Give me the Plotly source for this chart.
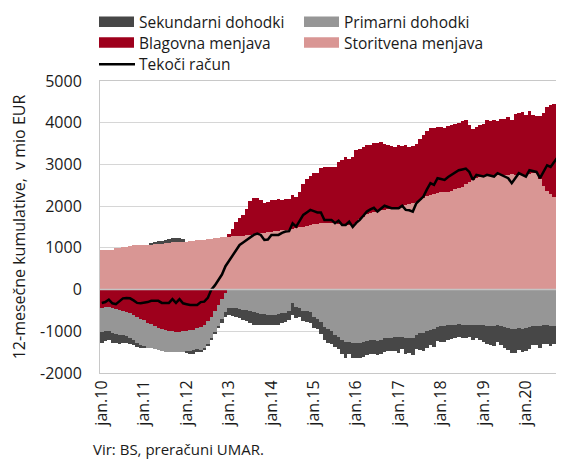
import plotly.graph_objects as go

# 12-mesečne kumulative, mio EUR, mesečno jan.2010 - nov.2020
mesci = ["jan", "feb", "mar", "apr", "maj", "jun", "jul", "avg", "sep", "okt", "nov", "dec"]
obdobja = [f"{m}.{l:02d}" for l in range(10, 21) for m in mesci][:131]
oznake_x = [f"jan.{l:02d}" for l in range(10, 21)]

storitvena = [
    950, 950, 945, 955, 990, 1000, 1010, 1020, 1040, 1060, 1065, 1070,
    1075, 1080, 1085, 1090, 1095, 1100, 1110, 1120, 1130, 1135, 1140, 1145,
    1150, 1160, 1170, 1180, 1190, 1200, 1210, 1220, 1230, 1240, 1250, 1260,
    1270, 1275, 1280, 1285, 1290, 1300, 1310, 1330, 1340, 1350, 1360, 1370,
    1390, 1400, 1410, 1420, 1430, 1440, 1450, 1470, 1490, 1510, 1530, 1550,
    1570, 1580, 1590, 1600, 1600, 1600, 1590, 1580, 1570, 1560, 1550, 1560,
    1600, 1680, 1750, 1800, 1840, 1870, 1890, 1900, 1910, 1930, 1950, 1970,
    1990, 2000, 2020, 2040, 2070, 2100, 2150, 2200, 2240, 2270, 2290, 2310,
    2330, 2340, 2350, 2370, 2400, 2430, 2470, 2520, 2570, 2630, 2680, 2700,
    2710, 2720, 2730, 2740, 2740, 2740, 2750, 2750, 2760, 2750, 2740, 2740,
    2740, 2780, 2800, 2800, 2650, 2480, 2360, 2280, 2210, 2140, 2080,
]
blagovna = [
    -430, -420, -420, -440, -470, -490, -510, -530, -560, -600, -650, -700,
    -740, -790, -830, -870, -910, -940, -970, -990, -1000, -1010, -1010, -1000,
    -1000, -980, -960, -920, -900, -850, -760, -650, -520, -380, -230, -80,
    60, 180, 330, 420, 500, 640, 820, 860, 850, 800, 720, 740,
    760, 740, 750, 730, 730, 730, 820, 750, 850, 1030, 1120, 1170,
    1220, 1220, 1320, 1330, 1340, 1330, 1360, 1480, 1530, 1620, 1570, 1620,
    1740, 1700, 1670, 1660, 1620, 1640, 1630, 1630, 1590, 1530, 1490, 1450,
    1470, 1440, 1440, 1380, 1370, 1400, 1450, 1500, 1560, 1600, 1590, 1590,
    1570, 1540, 1570, 1570, 1570, 1570, 1570, 1540, 1380, 1220, 1220, 1240,
    1250, 1340, 1320, 1320, 1300, 1340, 1350, 1380, 1300, 1450, 1500, 1510,
    1450, 1510, 1380, 1360, 1520, 1750, 2020, 2140, 2240, 2320, 2390,
]
primarni = [
    -580, -570, -580, -590, -590, -600, -590, -590, -600, -610, -620, -630,
    -620, -600, -580, -560, -540, -530, -520, -500, -490, -480, -480, -500,
    -480, -500, -500, -500, -540, -540, -540, -520, -500, -490, -480, -450,
    -440, -440, -450, -460, -480, -500, -520, -540, -560, -580, -590, -600,
    -610, -600, -590, -570, -550, -520, -330, -420, -430, -520, -520, -540,
    -650, -700, -780, -900, -950, -1000, -1080, -1130, -1200, -1250, -1250, -1270,
    -1280, -1270, -1250, -1230, -1220, -1210, -1230, -1200, -1160, -1150, -1150, -1140,
    -1140, -1130, -1150, -1150, -1160, -1080, -1050, -1030, -1000, -960, -950, -900,
    -880, -870, -860, -850, -840, -830, -840, -850, -850, -860, -850, -860,
    -860, -870, -880, -880, -860, -880, -900, -930, -950, -940, -920, -950,
    -920, -900, -880, -870, -880, -860, -850, -870, -880, -870, -880,
]
sekundarni = [
    -260, -250, -220, -250, -230, -220, -180, -170, -150, -130, -110, -80,
    -30, 0, 30, 50, 60, 70, 80, 90, 100, 100, 90, 70,
    -40, -60, -80, -80, -60, -50, -50, -40, -40, -50, -80, -120,
    -180, -200, -200, -220, -240, -260, -280, -300, -300, -280, -260, -250,
    -250, -250, -250, -230, -220, -210, -290, -250, -230, -230, -260, -270,
    -260, -250, -280, -300, -320, -300, -300, -300, -350, -380, -300, -380,
    -370, -370, -360, -340, -330, -330, -350, -340, -330, -330, -330, -330,
    -370, -300, -400, -370, -410, -350, -400, -440, -400, -360, -420, -330,
    -370, -380, -360, -340, -330, -310, -320, -310, -280, -360, -300, -350,
    -390, -440, -440, -470, -390, -450, -490, -530, -560, -590, -530, -550,
    -560, -530, -460, -470, -520, -450, -450, -480, -430, -410, -430,
]
tekoci = [
    -320, -300, -240, -330, -350, -280, -210, -200, -210, -260, -320, -330,
    -320, -300, -270, -270, -270, -320, -320, -320, -230, -320, -230, -330,
    -350, -370, -370, -370, -300, -290, -200, 0, 100, 220, 360, 560,
    680, 800, 950, 1070, 1130, 1190, 1250, 1310, 1340, 1310, 1190, 1200,
    1310, 1310, 1310, 1360, 1390, 1400, 1590, 1510, 1650, 1790, 1850, 1910,
    1880, 1850, 1850, 1670, 1670, 1670, 1590, 1650, 1550, 1550, 1630, 1500,
    1600, 1670, 1770, 1870, 1920, 1960, 1870, 1940, 2010, 1980, 1950, 1950,
    1950, 2010, 1910, 1900, 1870, 2070, 2150, 2230, 2400, 2550, 2510, 2670,
    2650, 2630, 2700, 2750, 2800, 2860, 2880, 2900, 2820, 2630, 2750, 2730,
    2710, 2750, 2730, 2710, 2790, 2750, 2710, 2670, 2550, 2670, 2790, 2750,
    2710, 2860, 2840, 2820, 2670, 2820, 2980, 2940, 3060, 3180, 3140,
]

y_ticks = [-2000, -1000, 0, 1000, 2000, 3000, 4000, 5000]

BARVE = {
    "Sekundarni dohodki": "#474747",
    "Primarni dohodki": "#969696",
    "Blagovna menjava": "#9e001c",
    "Storitvena menjava": "#d99694",
}
FONT = "'Open Sans', 'Noto Sans', sans-serif"
TEXT = "#1a1a1a"

# stran ima 8 px roba (body margin), zato je slika za 8 px manjša
ODMIK = 8
W, H = 564 - ODMIK, 460 - ODMIK
# območje risanja v pikslih referenčne slike
L, R, T, B = 100, 563, 81, 373.5


def px(x):
    return (x - L) / (R - L)


def py(y):
    return (B - y) / (B - T)


fig = go.Figure()

# vrstni red sledi = vrstni red zlaganja (od 0 navzven)
for ime, vrednosti in [("Storitvena menjava", storitvena),
                       ("Blagovna menjava", blagovna),
                       ("Primarni dohodki", primarni),
                       ("Sekundarni dohodki", sekundarni)]:
    fig.add_trace(go.Bar(x=obdobja, y=vrednosti, name=ime, showlegend=False,
                         marker=dict(color=BARVE[ime], line=dict(width=0))))

fig.add_trace(go.Scatter(x=obdobja, y=tekoci, name="Tekoči račun", mode="lines",
                         showlegend=False, line=dict(color="#000000", width=2.5)))

fig.add_shape(type="line", xref="paper", x0=0, x1=1, yref="y", y0=0, y1=0,
              line=dict(color="#c4c4c4", width=1.5), layer="above")

# legenda (ročno, zaradi širokih pravokotnikov)
legenda = [
    ("Sekundarni dohodki", 99, 21.7),
    ("Primarni dohodki", 304, 21.7),
    ("Blagovna menjava", 99, 42.5),
    ("Storitvena menjava", 304, 42.5),
]
for ime, x0, yc in legenda:
    fig.add_shape(type="rect", xref="paper", yref="paper",
                  x0=px(x0), x1=px(x0 + 35), y0=py(yc + 5.2), y1=py(yc - 5.2),
                  fillcolor=BARVE[ime], line=dict(width=0))
    fig.add_annotation(text=ime, xref="paper", yref="paper", x=px(x0 + 38), y=py(yc),
                       xanchor="left", yanchor="middle", showarrow=False,
                       font=dict(size=15.5, color=TEXT, family=FONT))
fig.add_shape(type="line", xref="paper", yref="paper",
              x0=px(99), x1=px(135), y0=py(64.3), y1=py(64.3),
              line=dict(color="#000000", width=2.5))
fig.add_annotation(text="Tekoči račun", xref="paper", yref="paper", x=px(137), y=py(64.3),
                   xanchor="left", yanchor="middle", showarrow=False,
                   font=dict(size=15.5, color=TEXT, family=FONT))

fig.add_annotation(text="Vir: BS, preračuni UMAR.", xref="paper", yref="paper",
                   x=px(91), y=py(450), xanchor="left", yanchor="middle",
                   showarrow=False, font=dict(size=15, color=TEXT, family=FONT))

fig.update_layout(
    width=W, height=H,
    margin=dict(l=L - ODMIK, r=564 - R, t=T - ODMIK, b=460 - B),
    barmode="relative", bargap=0,
    plot_bgcolor="#ffffff", paper_bgcolor="#ffffff",
    font=dict(family=FONT, size=16, color=TEXT),
    showlegend=False,
    xaxis=dict(type="category", tickvals=oznake_x, ticktext=oznake_x, tickangle=-90,
               showgrid=False, showline=True, linecolor="#c8c8c8", mirror=True,
               ticks="", tickfont=dict(size=16), automargin=False),
    yaxis=dict(range=[-2000, 5000], tickvals=y_ticks,
               ticktext=[str(v) for v in y_ticks],
               showgrid=True, gridcolor="#d6d6d6", gridwidth=1, zeroline=False,
               showline=True, linecolor="#c8c8c8", mirror=True,
               ticks="", ticklabelstandoff=14, tickfont=dict(size=16), automargin=False,
               title=dict(text="12-mesečne kumulative,  v mio EUR",
                          font=dict(size=16), standoff=14)),
)

fig.write_html("out.html")
